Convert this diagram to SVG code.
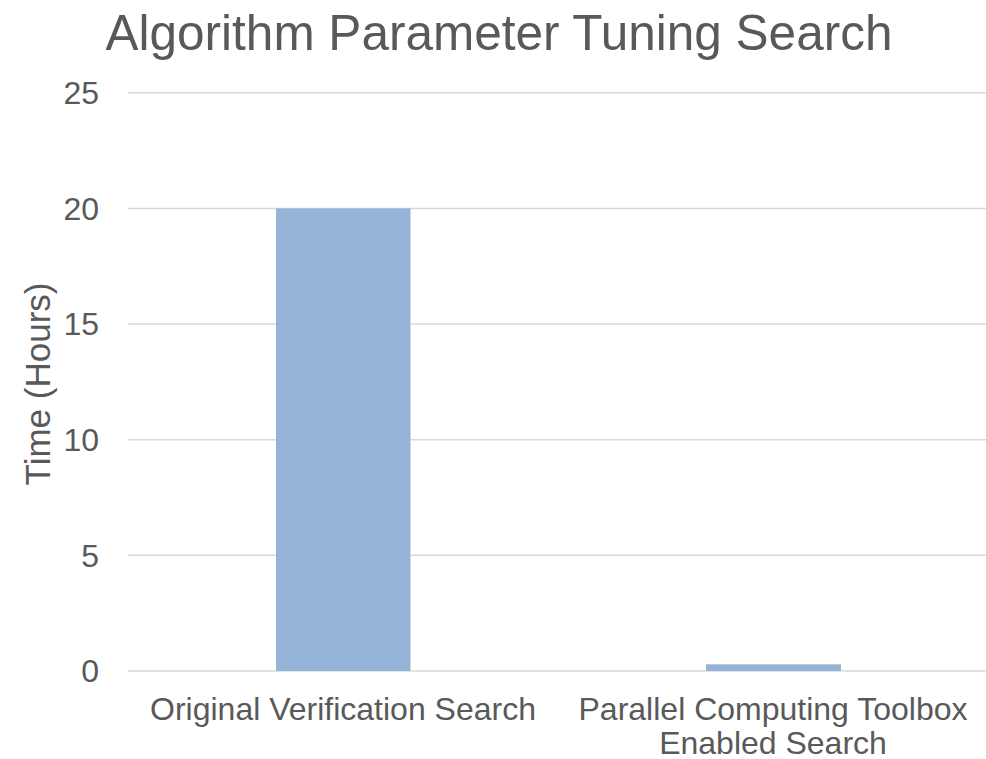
<svg xmlns="http://www.w3.org/2000/svg" width="986" height="759" viewBox="0 0 986 759">
  <style>
    text { font-family: "Liberation Sans", Arial, sans-serif; fill: #595959; }
    .grid { stroke: #d9d9d9; stroke-width: 1.5; }
    .bar { fill: #95b3d7; }
    .tick { font-size: 32px; text-anchor: end; dominant-baseline: central; }
    .cat { font-size: 32px; text-anchor: middle; }
  </style>
  <rect width="986" height="759" fill="#ffffff"/>

  <!-- title -->
  <text id="title" x="499" y="50" font-size="49.5" text-anchor="middle">Algorithm Parameter Tuning Search</text>

  <!-- horizontal gridlines: 0..25 in steps of 5 -->
  <g id="gridlines">
    <line class="grid" x1="128" y1="92.7" x2="986" y2="92.7"/>
    <line class="grid" x1="128" y1="208.4" x2="986" y2="208.4"/>
    <line class="grid" x1="128" y1="324" x2="986" y2="324"/>
    <line class="grid" x1="128" y1="439.7" x2="986" y2="439.7"/>
    <line class="grid" x1="128" y1="555.3" x2="986" y2="555.3"/>
    <line class="grid" x1="128" y1="671" x2="986" y2="671"/>
  </g>

  <!-- value axis labels -->
  <g id="y-axis">
    <text class="tick" x="99" y="93">25</text>
    <text class="tick" x="99" y="209">20</text>
    <text class="tick" x="99" y="324">15</text>
    <text class="tick" x="99" y="440">10</text>
    <text class="tick" x="99" y="556">5</text>
    <text class="tick" x="99" y="671">0</text>
    <text x="0" y="0" font-size="35" text-anchor="middle" transform="translate(50,384) rotate(-90)">Time (Hours)</text>
  </g>

  <!-- bars -->
  <g id="bar-original">
    <rect class="bar" x="276" y="208.4" width="134.5" height="462.6"/>
  </g>
  <g id="bar-parallel">
    <rect class="bar" x="706" y="664.3" width="135" height="6.7"/>
  </g>

  <!-- category labels -->
  <g id="x-axis">
    <text class="cat" x="343" y="720">Original Verification Search</text>
    <text class="cat" x="773" y="720">Parallel Computing Toolbox</text>
    <text class="cat" x="773" y="754">Enabled Search</text>
  </g>
</svg>
